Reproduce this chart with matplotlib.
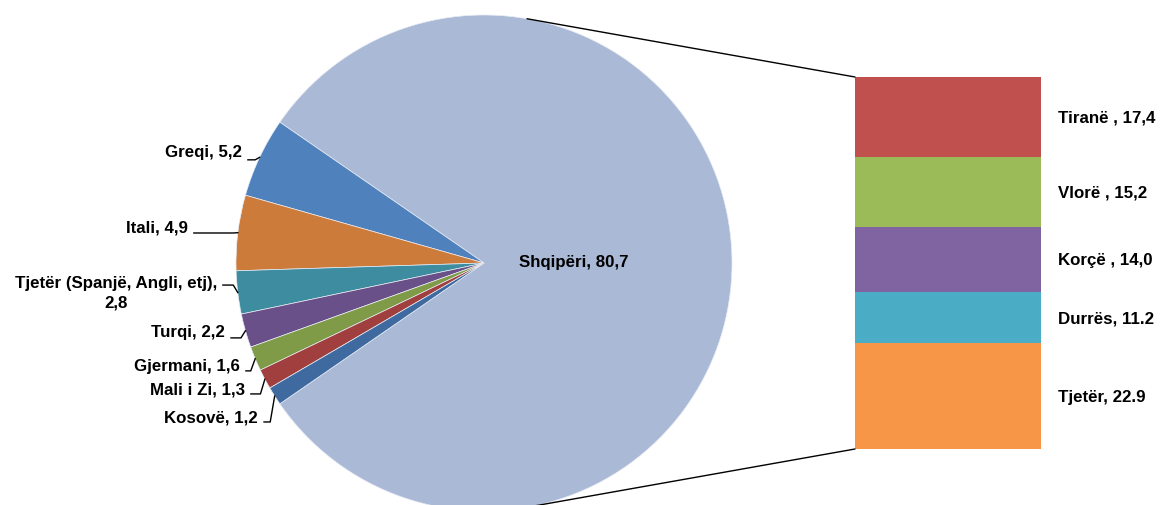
import numpy as np
import matplotlib.pyplot as plt
from matplotlib.patches import ConnectionPatch

# data
countries = ['Shqipëri', 'Greqi', 'Itali', 'Tjetër (Spanjë, Angli, etj),\n', 'Turqi',
             'Gjermani', 'Mali i Zi', 'Kosovë']
shares = [80.7, 5.2, 4.9, 2.8, 2.2, 1.6, 1.3, 1.2]
pie_colors = ['#AAB9D6', '#4F81BD', '#CD7B3A', '#3D8CA0', '#6A5088',
              '#7F9B48', '#A03F3D', '#3E6A9F']

districts = ['Tiranë ', 'Vlorë ', 'Korçë ', 'Durrës', 'Tjetër']
district_vals = [17.4, 15.2, 14.0, 11.2, 22.9]
district_text = ['17,4', '15,2', '14,0', '11.2', '22.9']
bar_colors = ['#C0504D', '#9BBB59', '#8064A2', '#4BACC6', '#F79646']

font = ['Liberation Sans', 'DejaVu Sans']
fs = 12.2

W, H = 1161, 506
fig = plt.figure(figsize=(W / 100, H / 100), dpi=100)

# pie axes: centre (484, 264) px, radius 248 px
cx, cy, r = 484, 264, 248
ax = fig.add_axes([(cx - r) / W, (H - cy - r) / H, 2 * r / W, 2 * r / H])
start = -360 * shares[0] / sum(shares) / 2
wedges, _ = ax.pie(shares, colors=pie_colors, startangle=start, counterclock=True,
                   radius=1, wedgeprops=dict(linewidth=0.5, edgecolor='#E8ECF4'))
ax.set_xlim(-1, 1)
ax.set_ylim(-1, 1)
ax.set_aspect('auto')
ax.axis('off')

# label positions (pie units), right edge of text
label_pos = [(0.360, 0.008), (-0.976, 0.448), (-1.194, 0.145), (-1.077, -0.117),
             (-1.044, -0.278), (-0.984, -0.415), (-0.964, -0.508), (-0.911, -0.621)]
line_dy = [0, -0.032, -0.024, 0.028, -0.024, -0.020, -0.020, -0.020]

for i, (name, val) in enumerate(zip(countries, shares)):
    num = f"{val:.1f}".replace('.', ',')
    txt = name + num if name.endswith('\n') else f"{name}, {num}"
    x, y = label_pos[i]
    if i == 0:
        ax.text(x, y, txt, ha='center', va='center', fontsize=fs, fontweight='bold',
                family=font)
        continue
    ax.text(x, y, txt, ha='right', va='center', multialignment='center', fontsize=fs,
            fontweight='bold', family=font, linespacing=1.4)
    w = wedges[i]
    mid = np.deg2rad((w.theta1 + w.theta2) / 2)
    ex, ey = np.cos(mid), np.sin(mid)
    ly = y + line_dy[i]
    ax.plot([x + 0.024, ex - 0.018, ex], [ly, ly, ey], color='black', lw=1,
            clip_on=False)

# bar of pie
bx0, by0, bx1, by1 = 855, 78, 1041, 450
bax = fig.add_axes([bx0 / W, (H - by1) / H, (bx1 - bx0) / W, (by1 - by0) / H])
bottoms = np.concatenate([[0], np.cumsum(district_vals)[:-1]])
bax.bar([0] * len(district_vals), district_vals, bottom=bottoms, width=1.0,
        color=bar_colors, edgecolor='none')
total = sum(district_vals)
bax.set_xlim(-0.5, 0.5)
bax.set_ylim(total, 0)
bax.axis('off')
for name, v, b, t in zip(districts, district_vals, bottoms, district_text):
    bax.text(1.09, b + v / 2, f"{name}, {t}", transform=bax.get_yaxis_transform(),
             ha='left', va='center', fontsize=fs, fontweight='bold', family=font)

# connector lines
a = np.deg2rad(80)
for sgn, yb in [(1, 0), (-1, total)]:
    con = ConnectionPatch(xyA=(np.cos(a), sgn * np.sin(a)), coordsA=ax.transData,
                          xyB=(-0.5, yb), coordsB=bax.transData,
                          color='black', lw=1)
    fig.add_artist(con)

fig.savefig('out.png', dpi=100)
